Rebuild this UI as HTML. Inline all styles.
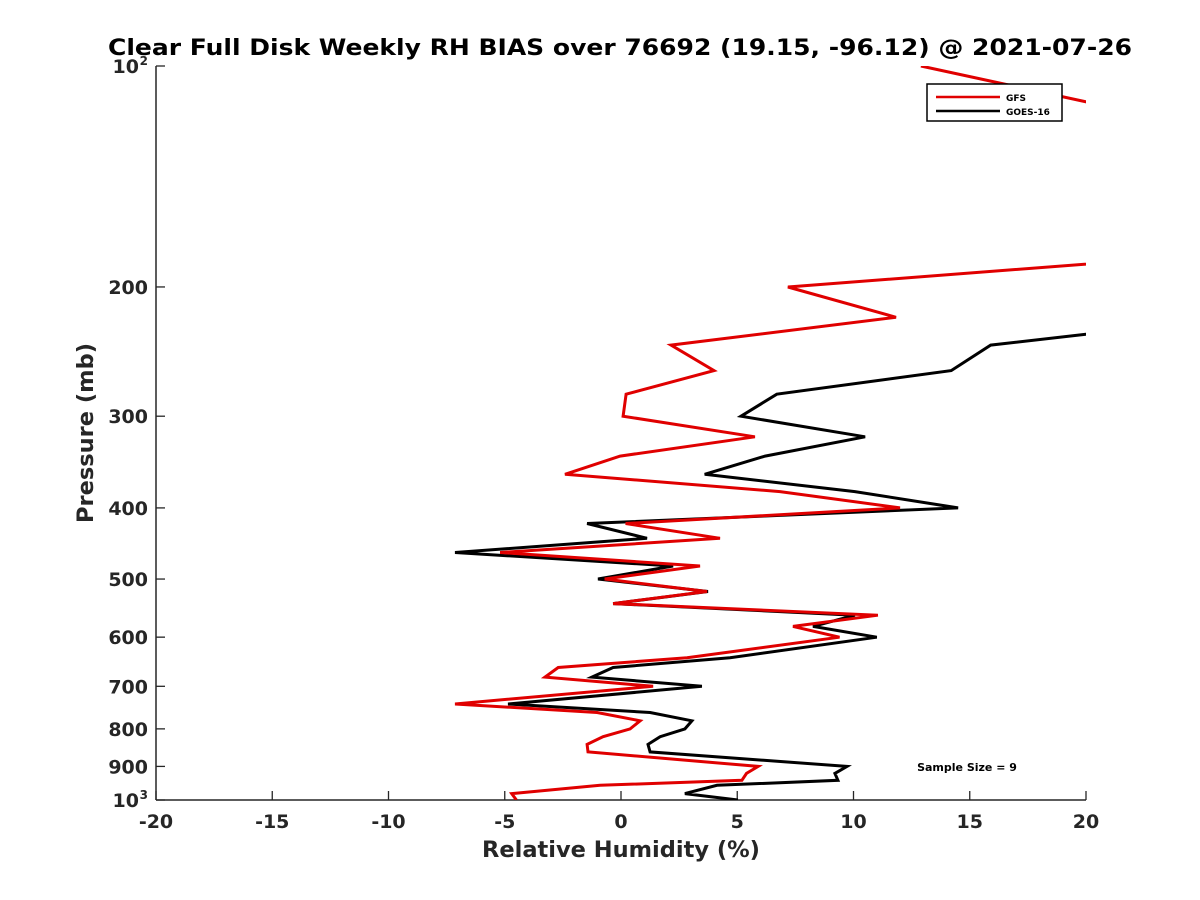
<!DOCTYPE html>
<html><head><meta charset="utf-8"><style>
body{margin:0;background:#fff;}
svg{display:block;font-family:"DejaVu Sans","Liberation Sans",sans-serif;}
</style></head><body>
<svg id="chart" width="1200" height="900" viewBox="0 0 1200 900">
<defs><clipPath id="plotclip"><rect x="156" y="66" width="930" height="734"/></clipPath></defs>
<text x="620" y="55" text-anchor="middle" font-size="22" font-weight="bold" fill="#000" textLength="1024" lengthAdjust="spacingAndGlyphs">Clear Full Disk Weekly RH BIAS over 76692 (19.15, -96.12) @ 2021-07-26</text>
<g id="axes"></g>
<g id="series" clip-path="url(#plotclip)"></g>
<g>
<rect x="927" y="84" width="135" height="37" fill="#fff" stroke="#000" stroke-width="1.5"/>
<line x1="936" y1="97" x2="1000" y2="97" stroke="#e00000" stroke-width="2.5"/>
<text x="1006" y="101" font-size="9" font-weight="bold">GFS</text>
<line x1="936" y1="111" x2="1000" y2="111" stroke="#000" stroke-width="2.5"/>
<text x="1006" y="115" font-size="9" font-weight="bold">GOES-16</text>
</g>
<text x="967" y="771" text-anchor="middle" font-size="11" font-weight="bold">Sample Size = 9</text>
<text x="621" y="857" text-anchor="middle" font-size="22.5" font-weight="bold" fill="#262626">Relative Humidity (%)</text>
<text x="0" y="0" transform="translate(93,433) rotate(-90)" text-anchor="middle" font-size="22.5" font-weight="bold" fill="#262626">Pressure (mb)</text>
</svg>
<script>
const xTicks = [-20,-15,-10,-5,0,5,10,15,20];
const yTicks = [200,300,400,500,600,700,800,900];
const gfsPressure = [100,125,175,200,220,240,260,280,300,320,340,360,380,400,420,440,460,480,500,520,540,560,580,600,640,660,680,700,740,760,780,800,820,840,860,900,920,940,955,980,1000];
const gfsValues = [12.9,27,31,7.18,11.83,2.15,4.0,0.22,0.09,5.76,-0.04,-2.41,6.84,12.0,0.2,4.26,-5.2,3.4,-0.7,3.7,-0.34,11.05,7.4,9.4,2.84,-2.7,-3.27,1.38,-7.14,-1.03,0.82,0.39,-0.77,-1.46,-1.42,5.9,5.4,5.2,-0.9,-4.7,-4.5];
const goesPressure = [220,232,240,260,280,300,320,340,360,380,400,420,440,460,480,500,520,540,560,580,600,640,660,680,700,740,760,780,800,820,840,860,900,920,940,955,980,1000];
const goesValues = [24,20,15.9,14.2,6.7,5.16,10.5,6.2,3.6,10.06,14.5,-1.46,1.12,-7.14,2.24,-0.99,3.74,-0.34,10.06,8.26,11.0,4.69,-0.34,-1.25,3.48,-4.86,1.25,3.05,2.75,1.68,1.16,1.25,9.72,9.2,9.33,4.13,2.75,5.03];

const NS='http://www.w3.org/2000/svg';
const X0=156,X1=1086,Y0=66,Y1=800;
function xs(v){return X0+(v+20)/40*(X1-X0);}
function ys(p){return Y0+(Math.log10(p)-2)*(Y1-Y0);}
function mk(tag,attrs,parent){const e=document.createElementNS(NS,tag);for(const k in attrs)e.setAttribute(k,attrs[k]);parent.appendChild(e);return e;}
const axes=document.getElementById('axes');
const ser=document.getElementById('series');
let a=mk('line',{x1:X0,y1:Y1,x2:X1,y2:Y1,stroke:'#262626','stroke-width':1.5},axes);


a=mk('line',{x1:X0,y1:Y0,x2:X0,y2:Y1,stroke:'#262626','stroke-width':1.5},axes);


xTicks.forEach(v=>{
  const x=xs(v);
  const t=mk('line',{x1:x,y1:Y1,x2:x,y2:Y1-9,stroke:'#262626','stroke-width':1.3},axes);
  
  
  const l=mk('text',{x:x,y:Y1+28,'text-anchor':'middle','font-size':19,'font-weight':'bold',fill:'#262626'},axes);
  l.textContent=String(v);
  
  
});
function ytick(p,label,sup){
  const y=ys(p);
  const t=mk('line',{x1:X0,y1:y,x2:X0+9,y2:y,stroke:'#262626','stroke-width':1.3},axes);
  
  
  const l=mk('text',{x:X0-8,y:y+7,'text-anchor':'end','font-size':19,'font-weight':'bold',fill:'#262626'},axes);
  if(sup){l.setAttribute('x',X0-17);
    const s=mk('text',{x:X0-8,y:y-1,'text-anchor':'end','font-size':12,'font-weight':'bold',fill:'#262626'},axes);
    s.textContent=sup;
    
    }
  l.textContent=label;
  
  
}
ytick(100,'10','2');ytick(1000,'10','3');
yTicks.forEach(p=>ytick(p,String(p)));
function line(P,V,color,name){
  const d=P.map((p,i)=>(i?'L':'M')+xs(V[i]).toFixed(1)+','+ys(p).toFixed(1)).join(' ');
  const e=mk('path',{d:d,fill:'none',stroke:color,'stroke-width':3,'stroke-linejoin':'miter'},ser);
  
  
}
line(goesPressure,goesValues,'#000','goes16-line');
line(gfsPressure,gfsValues,'#e00000','gfs-line');
</script>
</body></html>
